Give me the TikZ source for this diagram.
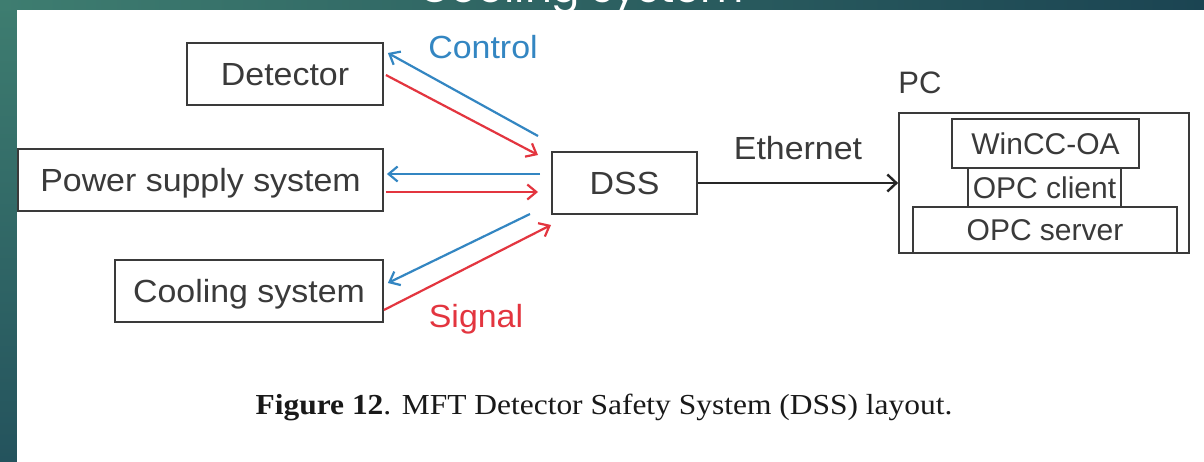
\documentclass[tikz,border=0pt]{standalone}
\usepackage{fontspec}
\setmainfont{Liberation Sans}
\newfontfamily\capfont{Liberation Serif}
\newfontfamily\titlefont{Poppins}
\usetikzlibrary{arrows.meta,calc}
\definecolor{tealA}{HTML}{3E7D70}
\definecolor{tealB}{HTML}{24535D}
\definecolor{tealC}{HTML}{1B4452}
\definecolor{ctrl}{HTML}{3386C2}
\definecolor{sig}{HTML}{E3353F}
\definecolor{ink}{HTML}{3A3A3A}
\newcommand{\hstr}[1]{\scalebox{1.06}[1]{#1}}
\begin{document}
\begin{tikzpicture}[x=1pt,y=-1pt,
  box/.style={draw=ink,line width=1.8pt,fill=white,inner sep=0pt,text=ink,
    font=\fontsize{32}{32}\selectfont,text height=23pt,text depth=0pt},
  pcbox/.style={box,font=\fontsize{30}{30}\selectfont,text height=21.5pt},
  lbl/.style={inner sep=0pt,font=\fontsize{32}{32}\selectfont,text height=23pt,text depth=0pt},
  ctrlarr/.style={draw=ctrl,line width=2.2pt,-{Straight Barb[length=9pt,width=15pt,line width=2.2pt]}},
  sigarr/.style={draw=sig,line width=2.2pt,-{Straight Barb[length=9pt,width=15pt,line width=2.2pt]}},
  etharr/.style={draw=black!85,line width=2.4pt,-{Straight Barb[length=9pt,width=17pt,line width=2.4pt]}}]
\path[use as bounding box] (0,0) rectangle (1204,461);
% background
\fill[top color=tealA,bottom color=tealB] (0,0) rectangle (1204,461);
\shade[left color=tealA,right color=tealC] (0,0) rectangle (1204,10);
\fill[white] (17,10) rectangle (1206,463);
\begin{scope}
  \clip (0,0) rectangle (1204,10);
  \node[anchor=base west,inner sep=0pt,text=white,font=\titlefont\fontsize{42}{42}\selectfont] (title) at (418,2) {Cooling system};
\end{scope}
% boxes
\node[box,minimum width=196pt,minimum height=62pt] (det) at (285,74) {\hstr{Detector}};
\node[box,minimum width=365pt,minimum height=62pt] (psu) at (200.5,180) {\hstr{Power supply system}};
\node[box,minimum width=268pt,minimum height=62pt] (cool) at (249,291) {\hstr{Cooling system}};
\node[box,minimum width=145pt,minimum height=62pt] (dss) at (624.5,183) {\hstr{DSS}};
\node[box,minimum width=290pt,minimum height=140pt] (pc) at (1044,183) {};
\node[pcbox,minimum width=187pt,minimum height=49pt] (wincc) at (1045.5,143.5) {WinCC-OA};
\node[pcbox,minimum width=153pt,minimum height=39pt] (opcc) at (1044.5,187.5) {OPC client};
\node[pcbox,minimum width=264pt,minimum height=46pt] (opcs) at (1045,230) {OPC server};
% labels
\node[lbl,text=ink,font=\fontsize{31}{31}\selectfont,text height=22pt] (pclbl) at (920,82) {PC};
\node[lbl,text=ink] (eth) at (798,148) {\hstr{Ethernet}};
\node[lbl,text=ctrl] (ctl) at (483,47) {\hstr{Control}};
\node[lbl,text=sig] (sgl) at (476,316) {\hstr{Signal}};
% free ends near DSS
\coordinate (b1) at (538,136);
\coordinate (r1) at (538,155);
\coordinate (b2) at (540,174);
\coordinate (r2) at (538,192);
\coordinate (b3) at (530,214);
\coordinate (r3) at (551,225);
% arrows
\draw[ctrlarr] (b1) -- ($(det.east)+(4,-21)$);
\draw[sigarr] ($(det.east)+(2,1)$) -- (r1);
\draw[ctrlarr] (b2) -- ($(psu.east)+(3,-6)$);
\draw[sigarr] ($(psu.east)+(2,12)$) -- (r2);
\draw[ctrlarr] (b3) -- ($(cool.east)+(4,-8)$);
\draw[sigarr] ($(cool.east)+(0,19)$) -- (r3);
\draw[etharr] (dss.east) -- (pc.west);
% caption
\node[anchor=base,inner sep=0pt,text=black!90,font=\capfont\fontsize{29}{29}\selectfont] (cap) at (604,414) {\scalebox{1.085}[1]{\textbf{Figure 12}. MFT Detector Safety System (DSS) layout.}};
\end{tikzpicture}
\end{document}
